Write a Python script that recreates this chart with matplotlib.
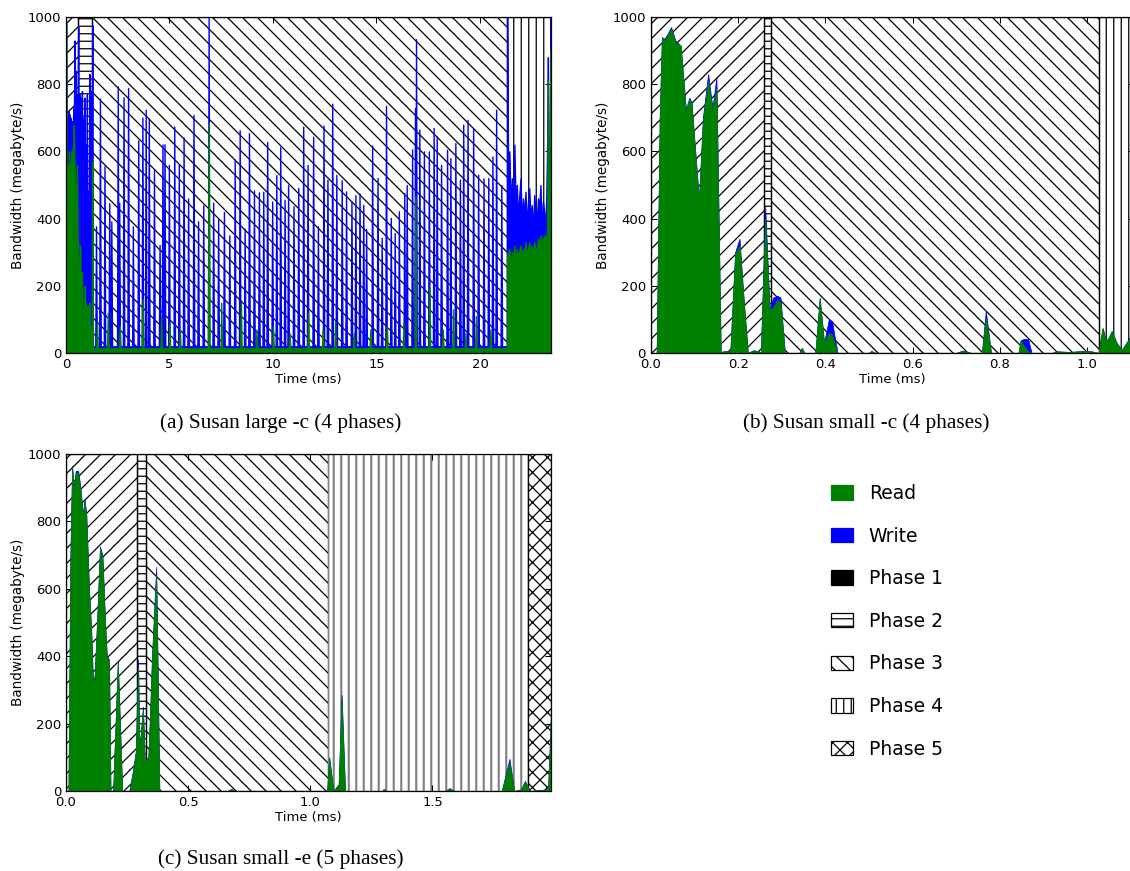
import numpy as np
import matplotlib
matplotlib.use("Agg")
import matplotlib.pyplot as plt
from matplotlib.patches import Patch

# ---------------------------------------------------------------- data
# phase boundaries (ms) for each run
a_phases = [0.0, 0.60, 1.27, 21.30, 23.43]
b_phases = [0.0, 0.259, 0.276, 1.027, 1.108]
c_phases = [0.0, 0.289, 0.328, 1.074, 1.890, 1.985]
phase_hatches = ["//", "--", "\\\\", "||", "xx"]

# (a) Susan large -c : phase 1 + 2 (dense part), read and read+write
a_early_t = [0.00, 0.02, 0.05, 0.08, 0.11, 0.14, 0.17, 0.20, 0.23, 0.26, 0.29,
             0.32, 0.35, 0.38, 0.41, 0.44, 0.47, 0.50, 0.53, 0.56, 0.59, 0.62,
             0.65, 0.68, 0.71, 0.74, 0.77, 0.80, 0.83, 0.86, 0.89, 0.92, 0.95,
             0.98, 1.01, 1.04, 1.07, 1.10, 1.13, 1.16, 1.19, 1.22, 1.25, 1.27]
a_early_total = [980, 640, 700, 560, 720, 600, 710, 650, 700, 590, 690,
                 620, 730, 680, 930, 720, 840, 600, 770, 680, 970, 300,
                 770, 420, 760, 200, 780, 350, 700, 150, 760, 480, 620,
                 250, 770, 180, 480, 350, 830, 260, 780, 520, 640, 976]
a_early_read = [980, 480, 560, 520, 500, 600, 560, 470, 540, 600, 560,
                610, 620, 680, 560, 500, 420, 460, 560, 350, 320, 180,
                130, 320, 200, 90, 240, 120, 160, 80, 200, 60, 150,
                90, 80, 140, 60, 100, 150, 40, 80, 60, 60, 570]

# (a) phase 3 : isolated write bursts (ms, MB/s)
a_write_spike_t = [1.45, 1.64, 1.86, 2.09, 2.19, 2.50, 2.57, 2.78, 3.00, 3.23,
                   3.49, 3.69, 3.85, 4.00, 4.25, 4.52, 4.66, 4.76, 4.97, 5.23,
                   5.45, 5.68, 5.90, 6.16, 6.38, 6.63, 6.89, 7.11, 7.35, 7.63,
                   7.89, 8.15, 8.39, 8.63, 8.84, 9.08, 9.32, 9.53, 9.72, 9.96,
                   10.16, 10.35, 10.56, 10.73, 10.99, 11.22, 11.46, 11.67, 11.94, 12.17,
                   12.44, 12.63, 12.86, 13.06, 13.32, 13.53, 13.79, 13.98, 14.18, 14.36,
                   14.50, 14.79, 15.05, 15.25, 15.46, 15.69, 15.88, 16.08, 16.34, 16.46,
                   16.72, 16.86, 16.91, 17.07, 17.29, 17.53, 17.76, 17.91, 18.12, 18.41,
                   18.57, 18.81, 19.03, 19.19, 19.40, 19.67, 19.91, 20.17, 20.40, 20.60,
                   20.78, 21.03]
a_write_spike_v = [377, 757, 556, 446, 392, 794, 447, 761, 789, 377,
                   633, 701, 724, 698, 544, 322, 621, 621, 560, 674,
                   560, 641, 460, 709, 392, 440, 1000, 448, 400, 420,
                   350, 575, 663, 370, 655, 484, 478, 480, 628, 451,
                   530, 613, 456, 500, 437, 491, 674, 560, 644, 377,
                   677, 516, 742, 530, 514, 481, 450, 470, 475, 441,
                   369, 617, 521, 343, 736, 402, 357, 422, 476, 500,
                   606, 729, 934, 665, 600, 600, 670, 645, 560, 605,
                   580, 625, 516, 680, 694, 670, 531, 520, 521, 585,
                   724, 500]
a_read_spike_t = [1.50, 2.02, 2.60, 3.70, 4.60, 5.00, 5.50, 6.89, 7.50, 8.45,
                  9.20, 10.00, 10.80, 11.70, 12.40, 13.00, 13.90, 14.70, 15.50,
                  16.30, 16.88, 17.56, 18.20, 18.70, 19.30, 19.80, 20.50]
a_read_spike_v = [90, 120, 80, 160, 110, 90, 70, 685, 150, 150,
                  70, 80, 60, 120, 70, 95, 60, 70, 80,
                  90, 466, 198, 70, 130, 60, 110, 70]
a_write_floor = 20
a_read_floor = 14

# (a) phase 4
a_late_t = [21.30, 21.31, 21.36, 21.42, 21.48, 21.54, 21.60, 21.66, 21.72, 21.78,
            21.84, 21.90, 21.96, 22.02, 22.08, 22.14, 22.20, 22.26, 22.32, 22.38,
            22.44, 22.50, 22.56, 22.62, 22.68, 22.74, 22.80, 22.86, 22.92, 22.98,
            23.04, 23.10, 23.16, 23.20, 23.24, 23.28, 23.32, 23.36, 23.40, 23.43]
a_late_total = [20, 1000, 540, 600, 430, 520, 380, 620, 440, 500,
                400, 470, 520, 380, 460, 410, 480, 370, 450, 490,
                400, 440, 360, 470, 420, 390, 460, 430, 500, 370,
                450, 420, 380, 460, 600, 880, 400, 430, 1000, 1000]
a_late_read = [10, 290, 300, 310, 260, 300, 280, 320, 270, 310,
               290, 300, 320, 280, 310, 300, 330, 290, 310, 330,
               300, 320, 290, 330, 310, 300, 340, 320, 350, 330,
               340, 350, 330, 350, 340, 810, 360, 350, 900, 900]

# (b) Susan small -c
b_t = [0.000, 0.013, 0.020, 0.025, 0.031, 0.038, 0.046, 0.056, 0.068, 0.080,
       0.088, 0.093, 0.110, 0.119, 0.131, 0.141, 0.150, 0.160, 0.165, 0.182,
       0.193, 0.203, 0.213, 0.222, 0.235, 0.248, 0.252, 0.262, 0.272, 0.280,
       0.290, 0.297, 0.307, 0.340, 0.346, 0.352, 0.377, 0.387, 0.397, 0.408,
       0.415, 0.428, 0.500, 0.505, 0.515, 0.700, 0.715, 0.735, 0.759, 0.768,
       0.780, 0.843, 0.848, 0.856, 0.865, 0.873, 0.920, 0.930, 0.960, 0.990,
       1.010, 1.027, 1.030, 1.036, 1.042, 1.047, 1.057, 1.068, 1.080, 1.099,
       1.108]
b_total = [0, 0, 700, 940, 935, 950, 970, 930, 915, 725,
           760, 745, 455, 700, 830, 730, 820, 0, 5, 5,
           300, 340, 150, 0, 8, 5, 0, 435, 130, 165,
           170, 165, 0, 0, 15, 0, 0, 165, 30, 100,
           95, 0, 0, 6, 0, 0, 7, 0, 0, 125,
           0, 0, 38, 42, 42, 0, 0, 5, 3, 6,
           5, 0, 30, 74, 45, 39, 65, 30, 9, 48,
           60]
b_read = [0, 0, 700, 940, 930, 945, 965, 925, 915, 720,
          755, 740, 450, 690, 810, 725, 790, 0, 5, 5,
          295, 320, 150, 0, 8, 5, 0, 400, 130, 135,
          160, 150, 0, 0, 15, 0, 0, 160, 30, 60,
          55, 0, 0, 6, 0, 0, 7, 0, 0, 105,
          0, 0, 38, 20, 5, 0, 0, 5, 3, 6,
          5, 0, 30, 74, 42, 39, 65, 30, 9, 45,
          55]

# (c) Susan small -e
c_t = [0.000, 0.010, 0.018, 0.025, 0.032, 0.040, 0.050, 0.059, 0.069, 0.076,
       0.083, 0.094, 0.103, 0.110, 0.117, 0.127, 0.139, 0.149, 0.160, 0.167,
       0.176, 0.182, 0.193, 0.212, 0.230, 0.259, 0.274, 0.286, 0.295, 0.300,
       0.315, 0.322, 0.337, 0.345, 0.352, 0.369, 0.382, 0.660, 0.677, 0.690,
       1.069, 1.077, 1.094, 1.116, 1.128, 1.142, 1.295, 1.300, 1.310, 1.550,
       1.570, 1.590, 1.783, 1.815, 1.834, 1.863, 1.878, 1.900, 1.973, 1.985]
c_total = [0, 0, 700, 965, 900, 950, 950, 900, 820, 865,
           820, 600, 480, 330, 340, 500, 725, 700, 500, 400,
           390, 0, 0, 385, 0, 0, 60, 120, 390, 120,
           250, 90, 100, 250, 400, 665, 0, 0, 6, 0,
           0, 100, 0, 20, 285, 0, 0, 6, 0, 0,
           8, 0, 0, 95, 0, 5, 30, 0, 5, 230]
c_read = [0, 0, 690, 960, 890, 945, 945, 890, 815, 860,
          815, 595, 475, 325, 335, 495, 720, 690, 495, 395,
          385, 0, 0, 380, 0, 0, 55, 115, 370, 115,
          240, 90, 95, 245, 390, 640, 0, 0, 6, 0,
          0, 98, 0, 20, 275, 0, 0, 6, 0, 0,
          8, 0, 0, 85, 0, 5, 28, 0, 5, 225]

captions = ["(a) Susan large -c (4 phases)",
            "(b) Susan small -c (4 phases)",
            "(c) Susan small -e (5 phases)"]
legend_labels = ["Read", "Write", "Phase 1", "Phase 2", "Phase 3", "Phase 4", "Phase 5"]


def spike_series(t0, t1, times, values, floor, half=0.035):
    t, v = [t0], [floor]
    for ti, vi in zip(times, values):
        t += [ti - half, ti, ti + half]
        v += [floor, vi, floor]
    t.append(t1)
    v.append(floor)
    return t, v


mid_wt, mid_wv = spike_series(1.30, 21.27, a_write_spike_t, a_write_spike_v, a_write_floor)
mid_rt, mid_rv = spike_series(1.30, 21.27, a_read_spike_t, a_read_spike_v, a_read_floor)
a_total_t = np.array(a_early_t + mid_wt + a_late_t)
a_total = np.array(a_early_total + mid_wv + a_late_total)
a_read_t = np.array(a_early_t + mid_rt + a_late_t)
a_read = np.array(a_early_read + mid_rv + a_late_read)

# ---------------------------------------------------------------- figure
DPI = 90
W, H = 1130, 871
plt.rcParams["font.family"] = "DejaVu Sans"
plt.rcParams["hatch.linewidth"] = 1.0
fig = plt.figure(figsize=(W / DPI, H / DPI), dpi=DPI)


def px_axes(left, top, right, bottom):
    return fig.add_axes([left / W, 1 - bottom / H, (right - left) / W, (bottom - top) / H])


def draw_panel(ax, bounds, tt, total, rt, read, xticks, xfmt, edge_lw=0.6, grey_phase=None):
    for i in range(len(bounds) - 1):
        ec, hlw = "black", 1.0
        if i == grey_phase:
            ec, hlw = "0.5", 1.7
        with plt.rc_context({"hatch.linewidth": hlw}):
            ax.axvspan(bounds[i], bounds[i + 1], facecolor="none", edgecolor=ec,
                       hatch=phase_hatches[i], linewidth=1.0, zorder=1)
    ax.fill_between(tt, 0, total, color="blue", linewidth=edge_lw, zorder=2)
    ax.fill_between(rt, 0, read, color="green", linewidth=edge_lw, zorder=3)
    ax.set_xlim(bounds[0], bounds[-1])
    ax.set_ylim(0, 1000)
    ax.set_yticks([0, 200, 400, 600, 800, 1000])
    ax.set_xticks(xticks)
    ax.set_xticklabels([xfmt.format(x) for x in xticks])
    ax.tick_params(direction="in", top=True, right=True, length=5, labelsize=10.5, pad=4)
    ax.set_xlabel("Time (ms)", fontsize=10.5)
    ax.set_ylabel("Bandwidth (megabyte/s)", fontsize=10.8)
    w_px = ax.get_position().width * W
    h_px = ax.get_position().height * H
    ax.yaxis.set_label_coords(-41 / w_px, 0.5)
    ax.xaxis.set_label_coords(0.5, -20 / h_px)
    for s in ax.spines.values():
        s.set_linewidth(1.0)
        s.set_zorder(5)


ax_a = px_axes(66, 17, 551, 353)
ax_b = px_axes(651, 17, 1134, 353)
ax_c = px_axes(66, 454, 551, 791)

draw_panel(ax_a, a_phases, a_total_t, a_total, a_read_t, a_read, [0, 5, 10, 15, 20], "{:d}",
           edge_lw=1.1)
draw_panel(ax_b, b_phases, b_t, b_total, b_t, b_read, [0.0, 0.2, 0.4, 0.6, 0.8, 1.0], "{:.1f}")
draw_panel(ax_c, c_phases, c_t, c_total, c_t, c_read, [0.0, 0.5, 1.0, 1.5], "{:.1f}",
           grey_phase=3)

# captions under each panel
serif = ["Liberation Serif", "DejaVu Serif"]
fig.text(281 / W, 1 - 423 / H, captions[0], ha="center", va="center", fontsize=17, family=serif)
fig.text(866 / W, 1 - 423 / H, captions[1], ha="center", va="center", fontsize=17, family=serif)
fig.text(281 / W, 1 - 859 / H, captions[2], ha="center", va="center", fontsize=17, family=serif)

# shared legend
handles = [Patch(facecolor="green", edgecolor="green"),
           Patch(facecolor="blue", edgecolor="blue"),
           Patch(facecolor="black", edgecolor="black")]
for h in phase_hatches[1:]:
    handles.append(Patch(facecolor="white", edgecolor="black", hatch=h))
fig.legend(handles, legend_labels, loc="upper left", bbox_to_anchor=(814 / W, 1 - 467 / H),
           frameon=False, fontsize=15, handlelength=1.17, handleheight=0.8,
           labelspacing=1.26, handletextpad=0.85)

fig.savefig("out.png", dpi=DPI)
